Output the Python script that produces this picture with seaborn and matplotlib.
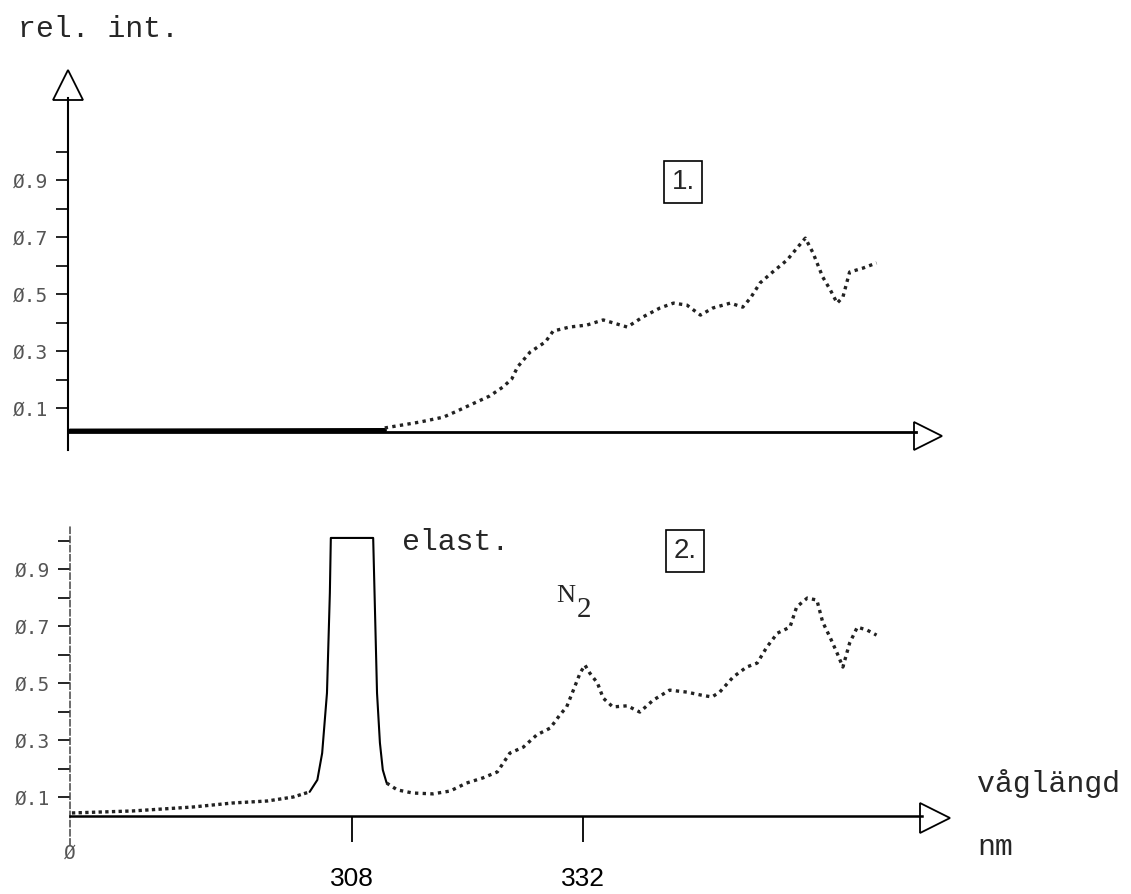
import matplotlib
matplotlib.use("Agg")
import matplotlib.pyplot as plt
import seaborn as sns
import pandas as pd

# ---------------- data ----------------
# spectrum 1 (upper panel): flat baseline, then dotted spectrum
s1_base_nm = [278.7, 311.4]
s1_base_val = [0.020, 0.022]
s1_nm = [311.4, 315.1, 317.5, 318.9, 320.3, 322.3, 323.7, 324.6, 325.2, 326.5,
         328.1, 328.9, 330.6, 332.4, 334.1, 336.6, 338.2, 340.0, 341.4, 342.8,
         344.2, 345.5, 347.3, 348.6, 349.4, 350.4, 351.7, 353.2, 354.5, 355.1,
         355.9, 356.9, 357.7, 358.4, 359.0, 359.7, 361.1, 362.5]
s1_val = [0.030, 0.051, 0.068, 0.089, 0.111, 0.142, 0.174, 0.202, 0.244, 0.296,
          0.332, 0.370, 0.384, 0.391, 0.409, 0.384, 0.419, 0.451, 0.468, 0.461,
          0.426, 0.451, 0.468, 0.454, 0.486, 0.539, 0.577, 0.619, 0.672, 0.696,
          0.644, 0.560, 0.514, 0.468, 0.489, 0.577, 0.591, 0.609]

# spectrum 2 (lower panel): rise, elastic peak (solid), then dotted spectrum
s2_left_nm = [278.9, 285.2, 291.5, 295.6, 299.2, 301.9, 303.6]
s2_left_val = [0.044, 0.051, 0.065, 0.079, 0.086, 0.100, 0.118]
s2_peak_nm = [303.6, 304.4, 304.9, 305.4, 305.7, 305.8, 310.2, 310.6, 310.9, 311.2, 311.6]
s2_peak_val = [0.118, 0.160, 0.254, 0.465, 0.816, 1.009, 1.009, 0.465, 0.290, 0.195, 0.149]
s2_right_nm = [311.6, 312.7, 314.3, 316.4, 318.2, 319.9, 321.6, 323.1, 324.4, 325.8,
               327.2, 328.6, 329.6, 330.3, 331.0, 331.7, 332.2, 332.7, 333.5, 334.1,
               335.1, 336.6, 337.9, 339.3, 341.0, 342.8, 344.2, 345.4, 346.2, 347.6,
               349.0, 350.1, 351.1, 352.2, 353.5, 354.2, 355.3, 356.3, 356.9, 357.7,
               358.4, 359.0, 359.7, 360.5, 361.5, 362.5]
s2_right_val = [0.149, 0.125, 0.114, 0.111, 0.121, 0.149, 0.167, 0.188, 0.254, 0.275,
                0.318, 0.342, 0.388, 0.416, 0.475, 0.535, 0.563, 0.535, 0.500, 0.447,
                0.416, 0.420, 0.398, 0.440, 0.475, 0.468, 0.458, 0.451, 0.468, 0.521,
                0.556, 0.570, 0.626, 0.675, 0.696, 0.767, 0.798, 0.791, 0.714, 0.658,
                0.605, 0.556, 0.640, 0.696, 0.686, 0.668]

y_major = [0.1, 0.3, 0.5, 0.7, 0.9]
y_minor = [0.2, 0.4, 0.6, 0.8, 1.0]
y_labels = ["Ø.1", "Ø.3", "Ø.5", "Ø.7", "Ø.9"]
x_ticks = [308, 332]
x_labels = ["308", "332"]

# ---------------- layout helpers (pixel geometry of the page) ----------------
W, H = 1131, 894
PX_PER_NM, NM_REF, PX_REF = 9.625, 308.0, 352.0


def nm(px):
    return NM_REF + (px - PX_REF) / PX_PER_NM


def v_top(py):
    return 0.1 + (408 - py) / 285.0


def v_bot(py):
    return 0.1 + (797 - py) / 285.0


sns.set_theme(style="white")
plt.rcParams["font.family"] = ["DejaVu Sans"]

fig = plt.figure(figsize=(W / 100, H / 100), dpi=100)
fig.patch.set_facecolor("white")

mono = "Liberation Mono"
tick_font = dict(family="DejaVu Sans Mono", size=14, color="#555555")


def panel(left_px, right_px, top_py, bot_py, vfun):
    ax = fig.add_axes([left_px / W, 1 - bot_py / H, (right_px - left_px) / W, (bot_py - top_py) / H])
    ax.set_facecolor("none")
    ax.set_xlim(nm(left_px), nm(right_px))
    ax.set_ylim(vfun(bot_py), vfun(top_py))
    for s in ["top", "right"]:
        ax.spines[s].set_visible(False)
    ax.set_yticks(y_major)
    ax.set_yticklabels(y_labels, fontdict=tick_font)
    ax.set_yticks(y_minor, minor=True)
    ax.tick_params(axis="y", which="both", direction="out", length=8.6, width=1.2,
                   left=True, pad=6, colors="black")
    for lab in ax.get_yticklabels():
        lab.set_color("#555555")
    ax.grid(False)
    return ax


# ---------------- upper panel ----------------
ax1 = panel(68, 960, 60, 455, v_top)
ax1.spines["left"].set_bounds(v_top(450), v_top(98))
ax1.spines["left"].set_linewidth(1.5)
ax1.spines["left"].set_color("black")
ax1.spines["bottom"].set_position(("data", v_top(432)))
ax1.spines["bottom"].set_bounds(nm(68), nm(916))
ax1.spines["bottom"].set_linewidth(2.0)
ax1.spines["bottom"].set_color("black")
ax1.set_xticks([])
ax1.plot([nm(68)], [v_top(85)], marker="^", markersize=22, mfc="white", mec="black",
         mew=1.3, clip_on=False)
ax1.plot([nm(928)], [v_top(436)], marker=">", markersize=20, mfc="white", mec="black",
         mew=1.3, clip_on=False)

df1b = pd.DataFrame({"nm": s1_base_nm, "val": s1_base_val})
df1 = pd.DataFrame({"nm": s1_nm, "val": s1_val})
sns.lineplot(data=df1b, x="nm", y="val", ax=ax1, color="black", lw=3.2, sort=False,
             estimator=None)
sns.lineplot(data=df1, x="nm", y="val", ax=ax1, color="#222222", lw=2.4, sort=False,
             estimator=None, linestyle=(0, (1, 1.3)))
ax1.set_xlabel("")
ax1.set_ylabel("")

# ---------------- lower panel ----------------
ax2 = panel(70, 960, 515, 850, v_bot)
ax2.spines["left"].set_bounds(v_bot(845), v_bot(525))
ax2.spines["left"].set_linestyle((0, (4, 2)))
ax2.spines["left"].set_linewidth(1.1)
ax2.spines["left"].set_color("#444444")
ax2.spines["bottom"].set_position(("data", v_bot(816)))
ax2.spines["bottom"].set_bounds(nm(70), nm(922))
ax2.spines["bottom"].set_linewidth(1.8)
ax2.spines["bottom"].set_color("black")
ax2.set_xticks(x_ticks)
ax2.set_xticklabels(x_labels, family="Liberation Sans", size=19, color="black")
ax2.tick_params(axis="x", direction="out", length=18.7, width=1.3, bottom=True, pad=18,
                colors="black")
ax2.plot([nm(935)], [v_bot(818)], marker=">", markersize=21, mfc="white", mec="black",
         mew=1.3, clip_on=False)

df2l = pd.DataFrame({"nm": s2_left_nm, "val": s2_left_val})
df2p = pd.DataFrame({"nm": s2_peak_nm, "val": s2_peak_val})
df2r = pd.DataFrame({"nm": s2_right_nm, "val": s2_right_val})
sns.lineplot(data=df2l, x="nm", y="val", ax=ax2, color="#222222", lw=2.4, sort=False,
             estimator=None, linestyle=(0, (1, 1.0)))
sns.lineplot(data=df2p, x="nm", y="val", ax=ax2, color="black", lw=1.5, sort=False,
             estimator=None)
sns.lineplot(data=df2r, x="nm", y="val", ax=ax2, color="#222222", lw=2.4, sort=False,
             estimator=None, linestyle=(0, (1, 1.3)))
ax2.set_xlabel("")
ax2.set_ylabel("")

# ---------------- texts ----------------
def ftext(px, py, s, **kw):
    fig.text(px / W, 1 - py / H, s, **kw)


ftext(18, 37, "rel. int.", family=mono, size=21.5, va="baseline", ha="left")
ftext(977, 792, "våglängd", family=mono, size=21.5, va="baseline", ha="left")
ftext(977, 855, "nm", family=mono, size=21.5, va="baseline", ha="left")
ftext(402, 550, "elast.", family=mono, size=21.5, va="baseline", ha="left")
ftext(556, 602, "N", family="Liberation Serif", size=19, va="baseline", ha="left")
ftext(577, 617, "2", family="Liberation Serif", size=21, va="baseline", ha="left")
ftext(70, 853, "Ø", family="DejaVu Sans Mono", size=14, color="#555555",
      va="center", ha="center")

box = dict(boxstyle="square,pad=0.28", fc="white", ec="black", lw=1.2)
ftext(683, 182, "1.", family="Liberation Sans", size=20, va="center", ha="center", bbox=box)
ftext(685, 551, "2.", family="Liberation Sans", size=20, va="center", ha="center", bbox=box)

fig.savefig("out.png", dpi=100)
